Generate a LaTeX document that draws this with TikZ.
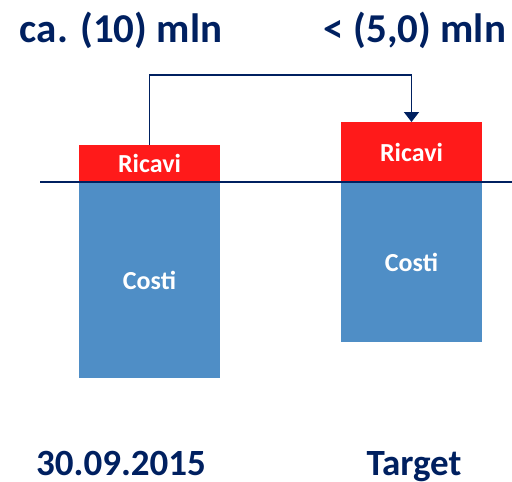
\documentclass[tikz,border=0pt]{standalone}
\usepackage{fontspec}
\setmainfont{Carlito}
\usetikzlibrary{arrows.meta}
\definecolor{navy}{HTML}{002060}
\definecolor{rred}{HTML}{FF1A1A}
\definecolor{cblue}{HTML}{4F8EC6}
\tikzset{
  bar/.style={inner sep=0pt, outer sep=0pt, anchor=north west, minimum width=141pt, text=white, font=\bfseries\fontsize{26}{26}\selectfont},
  ricavi/.style={bar, fill=rred},
  costi/.style={bar, fill=cblue},
  title/.style={text=navy, font=\bfseries\fontsize{41}{41}\selectfont, inner sep=0pt, anchor=base},
  label/.style={text=navy, font=\bfseries\fontsize{37}{37}\selectfont, inner sep=0pt, anchor=base},
  axisline/.style={draw=navy, line width=2pt},
  link/.style={draw=navy, line width=1.6pt, -{Triangle[length=10pt,width=15pt]}}
}
\begin{document}
\begin{tikzpicture}[x=1pt,y=-1pt]
\useasboundingbox (0,0) rectangle (512,482);
\node[costi, minimum height=196pt] (c1) at (79,182) {Costi};
\node[ricavi, minimum height=37pt] (r1) at (79,145) {Ricavi};
\node[costi, minimum height=160pt] (c2) at (341,182) {Costi};
\node[ricavi, minimum height=60pt] (r2) at (341,122) {Ricavi};
\coordinate (la) at (40,182);
\coordinate (lb) at (512,182);
\draw[axisline] (la) -- (lb);
\coordinate (top) at (0,75);
\draw[link] (r1.north) -- (r1.north |- top) -| (r2.north);
\node[title] (t1) at (121,42) {ca. (10) mln};
\node[title] (t2) at (415,42) {< (5,0) mln};
\node[label] (b1) at (121,475) {30.09.2015};
\node[label] (b2) at (414,475) {Target};
\end{tikzpicture}
\end{document}
